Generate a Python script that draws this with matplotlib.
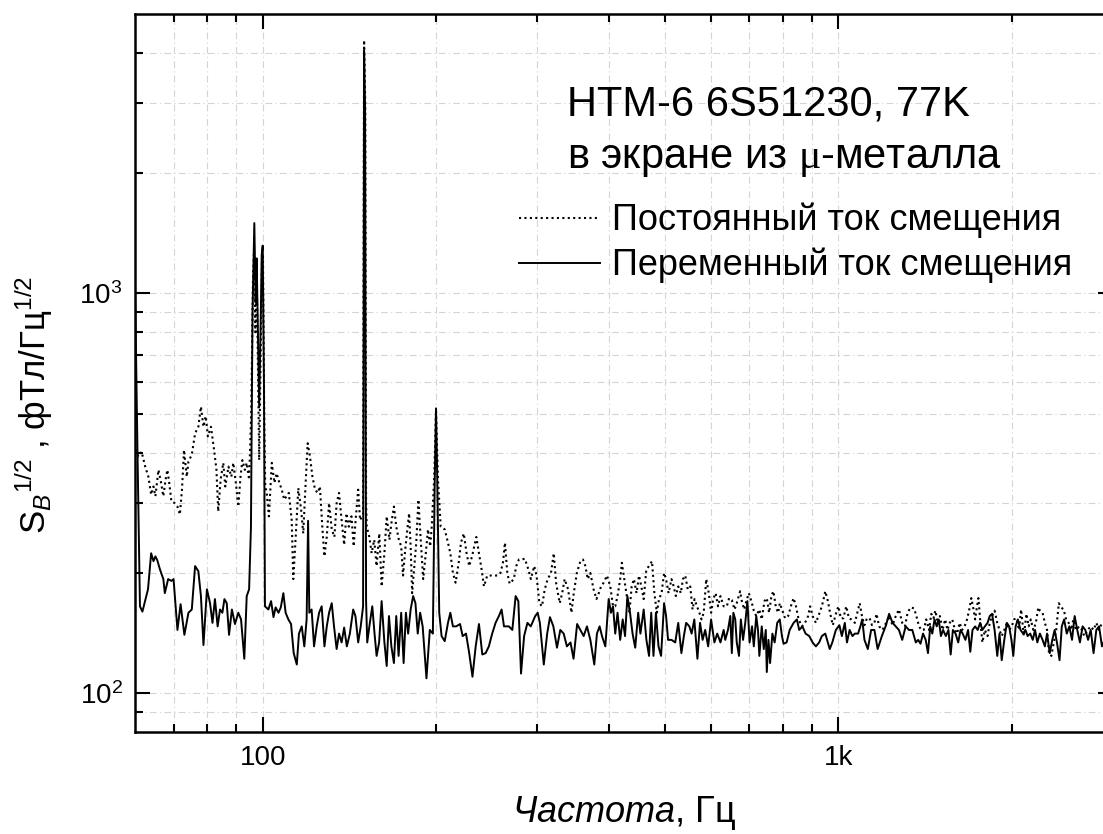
import matplotlib
matplotlib.use("Agg")
import matplotlib.pyplot as plt
from matplotlib.lines import Line2D
from matplotlib.ticker import FixedLocator, NullFormatter

plt.rcParams["font.family"] = ["Liberation Sans", "DejaVu Sans"]
plt.rcParams["mathtext.fontset"] = "custom"
plt.rcParams["mathtext.rm"] = "Liberation Sans"
plt.rcParams["mathtext.it"] = "Liberation Sans:italic"
plt.rcParams["mathtext.sf"] = "Liberation Serif"

# dotted curve: DC bias ("Постоянный ток смещения")
freq_dc = [60.0, 60.8, 61.6, 62.5, 63.3, 64.0, 64.6, 65.1, 65.9, 66.6, 67.2, 67.8, 68.3, 68.8, 69.4, 70.3, 71.1, 71.8, 72.4, 73.0,
           73.8, 74.3, 75.3, 76.3, 77.3, 78.1, 78.9, 79.6, 80.3, 81.3, 82.4, 83.1, 83.7, 84.5, 85.4, 86.1, 87.2, 88.2, 88.9, 89.8,
           90.7, 91.5, 92.2, 93.1, 93.8, 94.7, 95.5, 96.2, 96.6, 97.1, 97.6, 98.2, 98.6, 99.2, 99.7, 100.1, 100.6, 101.0, 101.6, 102.5,
           103.7, 104.8, 105.7, 106.9, 107.9, 109.0, 110.0, 111.0, 112.3, 113.0, 114.1, 115.3, 116.6, 117.6, 118.8, 119.7, 120.8, 122.0, 123.3, 124.6,
           125.7, 127.0, 128.0, 129.2, 130.4, 131.8, 133.2, 134.4, 135.7, 137.1, 138.5, 139.8, 141.1, 142.6, 143.9, 145.0, 146.5, 147.6, 149.4, 150.0,
           150.7, 151.2, 151.6, 153.2, 154.6, 156.2, 157.7, 159.4, 160.9, 162.7, 164.2, 166.0, 167.3, 169.0, 170.6, 172.4, 174.0, 175.3, 176.6, 178.0,
           179.6, 180.7, 181.8, 183.4, 184.8, 186.4, 188.0, 190.0, 192.0, 193.7, 195.4, 196.6, 198.5, 200.0, 201.6, 203.8, 207.1, 209.8, 211.8, 214.0,
           216.3, 219.0, 221.0, 223.5, 226.0, 228.4, 231.0, 233.0, 235.0, 237.5, 240.0, 242.3, 245.5, 250.4, 255.5, 258.8, 261.4, 263.5, 266.0, 268.5,
           273.0, 275.7, 278.6, 281.4, 285.3, 289.4, 292.3, 296.2, 299.0, 302.4, 305.6, 309.0, 312.6, 316.8, 320.3, 323.3, 328.0, 331.3, 334.6, 339.2,
           343.8, 347.0, 351.3, 356.3, 360.0, 363.5, 367.0, 370.8, 375.6, 380.0, 383.5, 387.0, 391.0, 396.3, 401.6, 406.0, 409.6, 413.4, 417.8, 420.6,
           424.6, 429.0, 433.5, 437.4, 441.4, 446.0, 450.5, 454.6, 459.0, 463.8, 468.9, 474.5, 479.0, 483.8, 488.0, 493.0, 498.0, 502.0, 507.0, 513.0,
           517.5, 522.0, 527.0, 532.5, 537.0, 542.0, 547.5, 553.0, 558.0, 562.5, 568.0, 573.5, 578.5, 583.5, 589.5, 595.5, 601.0, 606.0, 612.0, 618.0,
           624.0, 632.0, 640, 646, 653, 660, 666, 675, 679, 686, 692, 699, 706, 713, 720, 729, 736, 744, 751, 758,
           765, 771, 779, 786, 791, 798, 808, 818, 829, 836, 844, 853, 864, 875, 886, 893, 902, 914, 923, 932,
           941, 949, 959, 968, 978, 990, 1000, 1010, 1020, 1032, 1043, 1053, 1068, 1079, 1089, 1099, 1110, 1121, 1133, 1144,
           1155, 1165, 1177, 1193, 1210, 1225, 1242, 1258, 1274, 1291, 1305, 1319, 1335, 1354, 1366, 1381, 1393, 1407, 1421, 1437,
           1450, 1463, 1474, 1488, 1501, 1517, 1533, 1547, 1561, 1577, 1594, 1608, 1624, 1640, 1657, 1673, 1688, 1702, 1717, 1728,
           1740, 1751, 1763, 1779, 1797, 1816, 1832, 1849, 1868, 1888, 1905, 1922, 1942, 1962, 1980, 2001, 2018, 2039, 2059, 2077,
           2100, 2121, 2141, 2159, 2181, 2203, 2225, 2239, 2263, 2284, 2304, 2322, 2344, 2367, 2390, 2415, 2437, 2462, 2487, 2512,
           2538, 2559, 2587, 2620, 2649, 2675, 2710, 2745, 2775, 2806, 2837, 2870, 2900, 2950, 3000]
sb_dc = [420, 391, 402, 369, 348, 314, 329, 311, 362, 336, 311, 342, 362, 336, 302, 299, 293, 280, 323, 406,
         348, 380, 395, 447, 464, 521, 464, 493, 439, 464, 402, 362, 285, 342, 377, 329, 369, 348, 377, 336,
         293, 348, 383, 362, 377, 342, 500, 1100, 1300, 800, 1150, 600, 383, 700, 1200, 1250, 500, 330, 317, 277,
         377, 336, 355, 336, 323, 305, 311, 317, 271, 193, 246, 326, 288, 251, 342, 422, 391, 348, 323, 317,
         329, 257, 220, 246, 299, 257, 246, 299, 317, 271, 235, 282, 261, 277, 233, 271, 323, 271, 280, 4300,
         3000, 300, 261, 246, 224, 242, 208, 251, 185, 224, 277, 242, 266, 293, 261, 242, 233, 197, 224, 251,
         282, 233, 178, 208, 238, 305, 246, 193, 224, 257, 233, 261, 342, 510, 342, 261, 257, 238, 224, 200,
         189, 212, 238, 251, 224, 208, 220, 233, 246, 224, 204, 185, 197, 197, 197, 200, 212, 238, 200, 188,
         193, 208, 216, 216, 217, 204, 193, 208, 197, 168, 165, 182, 193, 200, 224, 189, 168, 178, 193, 182,
         159, 178, 200, 214, 216, 208, 193, 200, 182, 172, 178, 185, 189, 197, 185, 165, 165, 175, 193, 212,
         193, 175, 159, 185, 193, 178, 197, 185, 172, 204, 208, 214, 178, 159, 172, 178, 200, 193, 178, 193,
         185, 175, 185, 178, 193, 197, 182, 185, 162, 172, 165, 159, 153, 159, 193, 178, 159, 172, 178, 165,
         175, 165, 165, 173, 171, 162, 168, 180, 171, 162, 170, 178, 170, 161, 156, 162, 153, 170, 173, 159,
         175, 180, 164, 159, 168, 162, 154, 156, 167, 173, 165, 153, 147, 150, 156, 165, 156, 150, 156, 162,
         170, 180, 170, 158, 148, 158, 165, 154, 154, 165, 154, 153, 150, 159, 168, 156, 148, 154, 154, 148,
         150, 158, 147, 144, 150, 156, 148, 156, 162, 150, 147, 159, 164, 163, 156, 147, 144, 144, 153, 144,
         158, 154, 161, 150, 156, 144, 153, 144, 150, 153, 144, 141, 150, 144, 147, 153, 162, 173, 162, 153,
         164, 173, 153, 134, 144, 139, 150, 156, 161, 150, 144, 139, 144, 150, 144, 147, 153, 154, 144, 162,
         139, 158, 147, 153, 144, 150, 164, 161, 159, 150, 144, 126, 124, 134, 144, 168, 164, 162, 153, 150,
         144, 153, 144, 147, 144, 139, 144, 147, 144, 150, 144, 150, 150, 141, 147]

# solid curve: AC bias ("Переменный ток смещения")
freq_ac = [60.0, 60.6, 61.2, 61.8, 63.2, 64.0, 64.6, 65.1, 65.6, 66.3, 67.2, 67.6, 68.5, 69.4, 70.0, 71.1, 72.0, 73.1, 74.3, 75.3,
           76.3, 77.3, 78.1, 78.9, 80.0, 81.0, 81.8, 82.6, 83.5, 84.3, 85.1, 85.8, 86.6, 87.4, 88.4, 89.5, 90.7, 91.7, 92.9, 93.8,
           94.7, 95.4, 96.0, 96.7, 97.2, 97.6, 98.1, 98.6, 99.2, 99.6, 100.0, 100.5, 100.9, 102.3, 103.4, 104.4, 105.3, 106.5, 107.5, 108.6,
           109.6, 110.8, 112.0, 113.2, 114.6, 115.6, 116.9, 118.1, 119.2, 119.9, 120.5, 121.6, 122.8, 124.1, 125.3, 126.6, 128.0, 129.2, 130.4, 131.8,
           133.0, 134.4, 135.7, 137.1, 138.5, 140.0, 141.7, 143.6, 144.9, 146.5, 148.0, 149.4, 150.0, 150.6, 151.2, 151.9, 153.5, 155.0, 156.4, 157.7,
           159.3, 160.9, 162.7, 164.2, 165.7, 167.3, 169.0, 170.6, 172.2, 174.0, 175.7, 177.3, 178.9, 180.7, 182.5, 184.2, 185.9, 187.7, 189.6, 192.5,
           195.1, 197.5, 199.0, 200.0, 201.0, 202.6, 204.5, 207.1, 209.8, 211.8, 214.0, 216.8, 220.2, 222.5, 225.5, 228.4, 231.4, 234.4, 237.5, 240.7,
           243.9, 247.1, 250.4, 253.8, 257.2, 260.0, 262.5, 267.7, 271.4, 275.0, 278.0, 281.0, 284.5, 288.3, 292.2, 297.4, 300.4, 303.0, 307.8, 312.0,
           315.5, 319.8, 324.5, 328.8, 333.3, 337.6, 342.5, 346.7, 351.7, 356.3, 361.0, 365.8, 370.8, 376.7, 380.7, 384.8, 388.5, 393.7, 399.0, 402.6,
           406.0, 409.6, 413.4, 417.8, 422.0, 426.0, 430.0, 434.6, 439.0, 443.7, 449.0, 453.0, 459.0, 464.0, 468.9, 473.0, 477.3, 482.0, 487.0, 492.0,
           498.0, 502.0, 506.0, 513.0, 520.7, 527.0, 533.7, 539.0, 544.0, 551.0, 556.0, 562.0, 569.0, 575.0, 581.0, 587.0, 594.0, 601.0, 609.0, 616.0,
           624.0, 632.0, 636, 643, 649, 653, 657, 662, 666, 672, 677, 683, 689, 695, 701, 708, 713, 720, 725, 729,
           736, 742, 748, 751, 756, 761, 768, 775, 783, 791, 798, 803, 813, 823, 836, 847, 855, 866, 877, 890,
           902, 914, 926, 936, 949, 966, 976, 990, 1004, 1014, 1026, 1035, 1046, 1058, 1068, 1082, 1092, 1100, 1110, 1125,
           1140, 1155, 1170, 1190, 1210, 1225, 1242, 1258, 1274, 1291, 1309, 1326, 1344, 1363, 1376, 1389, 1403, 1418, 1431, 1444,
           1456, 1469, 1482, 1494, 1507, 1520, 1537, 1553, 1567, 1581, 1598, 1615, 1630, 1644, 1662, 1680, 1695, 1710, 1728, 1746,
           1763, 1779, 1797, 1816, 1832, 1849, 1868, 1888, 1905, 1922, 1942, 1962, 1980, 1998, 2013, 2032, 2050, 2072, 2094, 2113,
           2132, 2154, 2176, 2196, 2216, 2239, 2263, 2284, 2304, 2329, 2353, 2375, 2397, 2422, 2444, 2467, 2493, 2519, 2546, 2573,
           2600, 2628, 2656, 2685, 2715, 2744, 2775, 2806, 2837, 2870, 2900, 2950, 3000]
sb_ac = [1050, 400, 165, 160, 182, 224, 214, 220, 215, 204, 193, 178, 193, 191, 193, 144, 167, 140, 159, 162,
         208, 202, 175, 132, 182, 168, 150, 172, 147, 162, 159, 172, 168, 140, 162, 149, 159, 153, 122, 175,
         182, 260, 900, 1500, 950, 1224, 800, 520, 850, 1250, 1317, 600, 165, 162, 170, 155, 164, 159, 164, 178,
         159, 153, 149, 126, 118, 141, 147, 131, 153, 270, 159, 162, 131, 147, 159, 165, 131, 147, 159, 168,
         147, 129, 141, 134, 146, 131, 141, 162, 156, 134, 147, 165, 4050, 2900, 170, 134, 150, 165, 141, 124,
         134, 170, 134, 117, 156, 131, 119, 156, 124, 159, 119, 159, 141, 162, 175, 168, 141, 159, 147, 109,
         144, 141, 342, 516, 342, 159, 139, 135, 150, 159, 147, 147, 149, 139, 141, 126, 110, 131, 149, 125,
         126, 131, 141, 150, 156, 162, 147, 147, 144, 175, 170, 112, 139, 150, 147, 156, 159, 150, 118, 141,
         155, 147, 130, 144, 141, 131, 134, 122, 149, 144, 139, 147, 136, 118, 141, 147, 139, 131, 172, 159,
         165, 141, 159, 136, 153, 139, 175, 159, 141, 130, 159, 141, 162, 136, 124, 159, 124, 159, 131, 124,
         168, 156, 136, 136, 134, 150, 126, 139, 150, 147, 141, 153, 122, 150, 136, 144, 131, 153, 134, 141,
         134, 144, 136, 144, 156, 126, 159, 153, 134, 124, 153, 136, 150, 170, 134, 147, 131, 156, 144, 124,
         147, 129, 144, 113, 136, 119, 141, 134, 150, 153, 139, 133, 134, 144, 150, 153, 144, 147, 141, 139,
         134, 131, 134, 139, 141, 129, 134, 144, 148, 139, 150, 134, 144, 139, 141, 141, 147, 153, 136, 129,
         144, 144, 129, 139, 148, 158, 150, 147, 144, 136, 147, 144, 144, 134, 136, 133, 141, 136, 126, 147,
         141, 153, 147, 153, 139, 144, 139, 144, 125, 144, 141, 134, 144, 141, 136, 144, 127, 144, 147, 144,
         150, 144, 147, 150, 156, 158, 144, 124, 141, 121, 136, 150, 147, 136, 124, 147, 153, 144, 141, 144,
         139, 141, 136, 144, 134, 141, 136, 131, 141, 126, 136, 144, 134, 121, 147, 153, 141, 147, 136, 156,
         144, 134, 147, 144, 136, 144, 126, 144, 147, 131, 136, 141, 139]

x_ticks = [100, 1000]
x_tick_labels = ["100", "1k"]
y_ticks = [100, 1000]
y_tick_labels = [r"$10^2$", r"$10^3$"]

fig = plt.figure(figsize=(11.03, 8.34), dpi=100)
ax = fig.add_axes([0.1224, 0.1223, 0.8867, 0.8609])

ax.plot(freq_dc, sb_dc, color="black", lw=1.5, linestyle=(0, (1, 1.6)))
ax.plot(freq_ac, sb_ac, color="black", lw=1.4)

ax.set_xscale("log")
ax.set_yscale("log")
ax.set_xlim(60, 3000)
ax.set_ylim(80, 5000)

ax.xaxis.set_major_locator(FixedLocator(x_ticks))
ax.set_xticklabels(x_tick_labels)
ax.xaxis.set_minor_locator(FixedLocator([70, 80, 90, 200, 300, 400, 500, 600, 700, 800, 900, 2000, 3000]))
ax.xaxis.set_minor_formatter(NullFormatter())
ax.yaxis.set_major_locator(FixedLocator(y_ticks))
ax.set_yticklabels(y_tick_labels)
ax.yaxis.set_minor_locator(FixedLocator([90, 200, 300, 400, 500, 600, 700, 800, 900, 2000, 3000, 4000]))
ax.yaxis.set_minor_formatter(NullFormatter())

ax.tick_params(which="both", direction="in", top=True, right=True, width=1.5, labelsize=20)
ax.tick_params(which="major", length=11, pad=9)
ax.tick_params(which="minor", length=6)
for sp in ax.spines.values():
    sp.set_linewidth(1.8)

ax.grid(True, which="both", color="#d4d4d4", lw=0.8, linestyle=(0, (6, 3, 1, 3)))
ax.set_axisbelow(True)

ax.set_xlabel(r"$\mathit{Частота}$, Гц", fontsize=26, labelpad=17)
ax.set_ylabel(r"S$_{\mathit{B}}{}^{\mathit{1/2}}$ , фТл/Гц$^{\mathit{1/2}}$", fontsize=25)
ax.yaxis.set_label_coords(-0.082, 0.455)

ax.text(0.4417, 0.859, "НТМ-6 6S51230, 77K", transform=ax.transAxes, fontsize=30, va="baseline")
ax.text(0.4417, 0.786, r"в экране из $\mathsf{μ}$-металла", transform=ax.transAxes, fontsize=30, va="baseline")

handles = [Line2D([], [], color="black", lw=1.5, linestyle=(0, (1, 1.6))),
           Line2D([], [], color="black", lw=1.4)]
ax.legend(handles, ["Постоянный ток смещения", "Переменный ток смещения"],
          loc="upper left", bbox_to_anchor=(0.3926, 0.737), frameon=False, fontsize=26,
          handlelength=2.24, handletextpad=0.33, labelspacing=0.26, borderpad=0, borderaxespad=0)

plt.savefig("out.png", dpi=100)
